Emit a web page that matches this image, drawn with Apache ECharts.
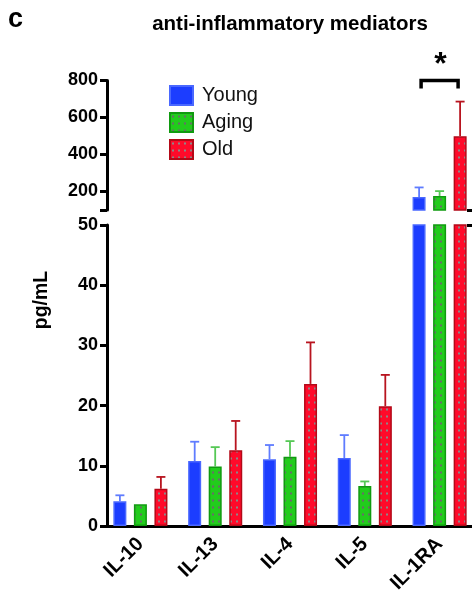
<!DOCTYPE html>
<html><head><meta charset="utf-8">
<script src="https://cdn.jsdelivr.net/npm/echarts@6/dist/echarts.min.js"></script>
<style>html,body{margin:0;padding:0;background:#fff;overflow:hidden}#c{width:484px;height:597px}</style>
</head><body><div id="c"></div>
<script>
// ---- data ----
const categories = ['IL-10', 'IL-13', 'IL-4', 'IL-5', 'IL-1RA'];
const groups = ['Young', 'Aging', 'Old'];
const youngMean = [4.1, 10.8, 11.1, 11.3, 170];
const youngErr  = [1.0, 3.2, 2.35, 3.8, 52];
const agingMean = [3.6, 9.9, 11.5, 6.65, 176];
const agingErr  = [0, 3.2, 2.6, 0.75, 26];
const oldMean   = [6.2, 12.6, 23.6, 19.9, 499];
const oldErr    = [1.95, 4.85, 6.9, 5.2, 187];
const lowTicks  = [0, 10, 20, 30, 40, 50];
const highTicks = [200, 400, 600, 800];
const lowRange  = [0, 50];
const highRange = [100, 800];

// ---- style ----
const FONT = '"Liberation Sans", Arial, Helvetica, sans-serif';
const BAR_W = 13, BAR_STEP = 20.5;
const styles = {
  Young: { fill: '#1c3dff', border: '#4a68ff', err: '#5f7cff', dots: null },
  Aging: { fill: '#22cc1c', border: '#109a10', err: '#55c855', dots: '#6a6a6a' },
  Old:   { fill: '#ff0a2a', border: '#b30a18', err: '#b8141f', dots: '#8a8a8a' }
};
const means = { Young: youngMean, Aging: agingMean, Old: oldMean };
const errs  = { Young: youngErr,  Aging: agingErr,  Old: oldErr };

function dotPattern(fill, dot) {
  const c = document.createElement('canvas');
  c.width = 6; c.height = 7;
  const ctx = c.getContext('2d');
  ctx.fillStyle = fill; ctx.fillRect(0, 0, 6, 7);
  ctx.fillStyle = dot;
  ctx.fillRect(2, 2.5, 2, 2);
  return { image: c, repeat: 'repeat' };
}
function makeItemStyle(st) {
  return { color: st.dots ? dotPattern(st.fill, st.dots) : st.fill, borderColor: st.border, borderWidth: 1.5 };
}

const chart = echarts.init(document.getElementById('c'));

const gridLeft = 103, gridWidth = 374;
const series = [];
groups.forEach((g, gi) => {
  const st = styles[g];
  series.push({
    type: 'bar', name: g, xAxisIndex: 1, yAxisIndex: 1,
    data: means[g], barWidth: BAR_W, barGap: '58%', itemStyle: makeItemStyle(st), z: 3, clip: true,
    emphasis: { disabled: true }
  });
  series.push({
    type: 'bar', name: g, xAxisIndex: 0, yAxisIndex: 0,
    data: means[g].map(v => v >= highRange[0] ? v : '-'),
    barWidth: BAR_W, barGap: '58%', itemStyle: makeItemStyle(st), z: 3, clip: true,
    emphasis: { disabled: true }
  });
  const offset = (gi - 1) * BAR_STEP;
  const mk = (filterFn, xi, yi) => ({
    type: 'custom', name: g + ' err', xAxisIndex: xi, yAxisIndex: yi, z: 2,
    data: means[g].map((m, i) => [i, m, errs[g][i]]).filter(d => filterFn(d[1]) && d[2] > 0),
    encode: { x: 0, y: 1 },
    renderItem: (params, api) => {
      const x = api.value(0), m = api.value(1), e = api.value(2);
      const p0 = api.coord([x, m]);
      const p1 = api.coord([x, m + e]);
      const cx = p0[0] + offset;
      return {
        type: 'group', children: [
          { type: 'line', shape: { x1: cx, y1: p0[1], x2: cx, y2: p1[1] }, style: { stroke: st.err, lineWidth: 1.8 } },
          { type: 'line', shape: { x1: cx - 4.5, y1: p1[1], x2: cx + 4.5, y2: p1[1] }, style: { stroke: st.err, lineWidth: 1.8 } }
        ]
      };
    }
  });
  series.push(mk(v => v < lowRange[1], 1, 1));
  series.push(mk(v => v >= highRange[0], 0, 0));
});

const labelStyle = { color: '#000', fontFamily: FONT, fontWeight: 'bold', fontSize: 18 };

const option = {
  animation: false,
  backgroundColor: '#fff',
  grid: [
    { left: gridLeft, width: gridWidth, top: 80.5, height: 129.5 },
    { left: gridLeft, width: gridWidth, top: 225, height: 301 }
  ],
  legend: {
    data: groups, orient: 'vertical', left: 169, top: 85, padding: 0,
    icon: 'rect', itemWidth: 23, itemHeight: 19, itemGap: 6,
    textStyle: { fontFamily: FONT, fontSize: 20, color: '#111', padding: [0, 0, 0, 4] },
    selectedMode: false
  },
  xAxis: [
    { type: 'category', gridIndex: 0, data: categories, show: false },
    {
      type: 'category', gridIndex: 1, data: categories,
      axisLine: { lineStyle: { color: '#000', width: 3 } },
      axisTick: { alignWithLabel: true, length: 6, lineStyle: { color: '#000', width: 3 } },
      axisLabel: Object.assign({ rotate: 45, margin: 15, interval: 0 }, labelStyle, { fontSize: 20 })
    }
  ],
  yAxis: [
    {
      type: 'value', gridIndex: 0, min: highRange[0], max: highRange[1], offset: -4,
      axisLine: { show: true, lineStyle: { color: '#000', width: 3 } },
      axisTick: { show: true, length: 7, customValues: [highRange[0]].concat(highTicks), lineStyle: { color: '#000', width: 3 } },
      axisLabel: Object.assign({ customValues: highTicks, margin: 9 }, labelStyle),
      splitLine: { show: false }
    },
    {
      type: 'value', gridIndex: 1, min: lowRange[0], max: lowRange[1], offset: -4,
      axisLine: { show: true, lineStyle: { color: '#000', width: 3 } },
      axisTick: { show: true, length: 7, customValues: lowTicks, lineStyle: { color: '#000', width: 3 } },
      axisLabel: Object.assign({ customValues: lowTicks, margin: 9 }, labelStyle),
      splitLine: { show: false }
    },
    {
      type: 'value', gridIndex: 0, min: highRange[0], max: highRange[1], offset: -4,
      axisLine: { show: false },
      axisTick: { show: true, inside: true, length: 6, customValues: [highRange[0]], lineStyle: { color: '#000', width: 3 } },
      axisLabel: { show: false }, splitLine: { show: false }
    },
    {
      type: 'value', gridIndex: 1, min: lowRange[0], max: lowRange[1], offset: -4,
      axisLine: { show: false },
      axisTick: { show: true, inside: true, length: 6, customValues: [lowRange[1]], lineStyle: { color: '#000', width: 3 } },
      axisLabel: { show: false }, splitLine: { show: false }
    }
  ],
  series
};
chart.setOption(option);

// annotations
const pC = chart.convertToPixel({ gridIndex: 0 }, [4, highRange[1]]);
const bx0 = pC[0] - BAR_STEP + 2, bx1 = pC[0] + BAR_STEP - 2, by = pC[1];
chart.setOption({
  graphic: [
    { type: 'text', left: 8, top: 6, style: { text: 'c', font: 'bold 27px ' + FONT, fill: '#000' } },
    { type: 'text', x: 290, y: 24, style: { text: 'anti-inflammatory mediators', font: 'bold 20.5px ' + FONT, fill: '#000', textAlign: 'center', textVerticalAlign: 'middle' } },
    { type: 'text', x: 42, y: 300, rotation: Math.PI / 2, style: { text: 'pg/mL', font: 'bold 19.5px ' + FONT, fill: '#000', textAlign: 'center', textVerticalAlign: 'middle' } },
    { type: 'polyline', shape: { points: [[bx0, by + 8], [bx0, by], [bx1, by], [bx1, by + 8]] }, style: { stroke: '#000', lineWidth: 3.5, fill: null } },
    { type: 'text', x: pC[0] + 1, y: by - 15, style: { text: '*', font: 'bold 32px ' + FONT, fill: '#000', textAlign: 'center', textVerticalAlign: 'middle' } }
  ]
});
</script></body></html>
